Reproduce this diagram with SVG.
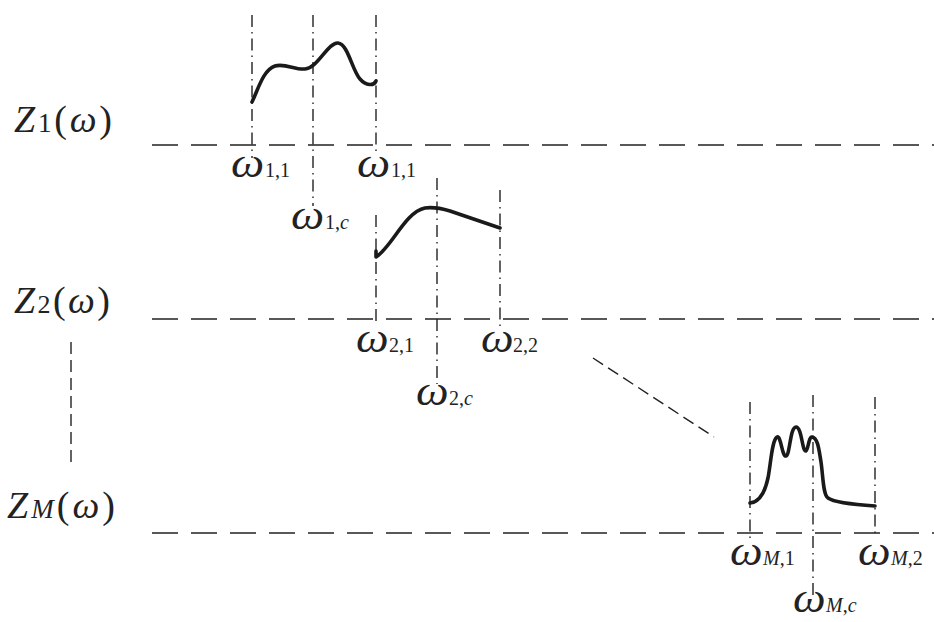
<svg xmlns="http://www.w3.org/2000/svg" width="934" height="622" viewBox="0 0 934 622">
<style>
text{fill:#222;font-family:"Liberation Serif","DejaVu Serif",serif}
.w{font-style:italic;font-size:42px}
.s{font-size:20px;font-style:normal}
.si{font-size:20px;font-style:italic}
.Z{font-size:38px}
.it{font-style:italic}
.axis{stroke:#222;stroke-width:1.6;stroke-dasharray:26 13;fill:none}
.dd{stroke:#222;stroke-width:1.4;stroke-dasharray:12 5 1.5 5;fill:none}
.dsh{stroke:#222;stroke-width:1.4;stroke-dasharray:12 6;fill:none}
.curve{stroke:#1a1a1a;stroke-width:3.6;fill:none;stroke-linecap:round;stroke-linejoin:round}
</style>
<rect width="934" height="622" fill="#fff"/>
<g id="labels-left">
<text class="Z" x="14" y="132" textLength="98" lengthAdjust="spacing"><tspan class="it">Z</tspan><tspan font-size="27">1</tspan>(<tspan class="it">ω</tspan>)</text>
<text class="Z" x="14" y="313" font-size="35" textLength="96" lengthAdjust="spacing"><tspan class="it">Z</tspan><tspan font-size="26">2</tspan>(<tspan class="it">ω</tspan>)</text>
<text class="Z" x="7" y="518" textLength="108" lengthAdjust="spacing"><tspan class="it">Z</tspan><tspan font-size="27" class="it">M</tspan>(<tspan class="it">ω</tspan>)</text>
</g>
<g id="connectors">
<line class="axis" x1="152" y1="145" x2="934" y2="145"/>
<line class="axis" x1="152" y1="319" x2="934" y2="319"/>
<line class="axis" x1="152" y1="533" x2="934" y2="533"/>
<line class="dsh" x1="71" y1="342" x2="71" y2="465"/>
<line class="dsh" x1="593" y1="358" x2="714" y2="437"/>
</g>
<g id="band1">
<line class="dd" x1="252" y1="15" x2="252" y2="158"/>
<line class="dd" x1="313" y1="15" x2="313" y2="206"/>
<line class="dd" x1="376" y1="15" x2="376" y2="156"/>
<path class="curve" d="M252,102 C258,90 263,70 275,66 C285,63 295,70 305,69 C318,68 328,42 338,43 C348,44 352,70 360,79 C366,86 374,86 376,81"/>
<g id="w11a"><text class="w" transform="translate(231,177) scale(1.12,1)">ω</text><text class="s" x="265" y="177">1,1</text></g>
<g id="w11b"><text class="w" transform="translate(357,177) scale(1.12,1)">ω</text><text class="s" x="391" y="177">1,1</text></g>
<g id="w1c"><text class="w" transform="translate(291,229) scale(1.12,1)">ω</text><text class="s" x="325" y="229">1,<tspan class="si">c</tspan></text></g>
</g>
<g id="band2">
<line class="dd" x1="376" y1="215" x2="376" y2="325"/>
<line class="dd" x1="437" y1="178" x2="437" y2="384"/>
<line class="dd" x1="500" y1="190" x2="500" y2="326"/>
<path class="curve" d="M376,251 L376,257 C392,247 405,212 425,208 C432,207 440,208 450,211 L500,228"/>
<g id="w21"><text class="w" transform="translate(356,352) scale(1.1,1)">ω</text><text class="s" x="389" y="352">2,1</text></g>
<g id="w22"><text class="w" transform="translate(481,352) scale(1.1,1)">ω</text><text class="s" x="513" y="352">2,2</text></g>
<g id="w2c"><text class="w" transform="translate(416,405) scale(1.1,1)">ω</text><text class="s" x="449" y="405">2,<tspan class="si">c</tspan></text></g>
</g>
<g id="bandM">
<line class="dd" x1="750" y1="402" x2="750" y2="540"/>
<line class="dd" x1="813" y1="395" x2="813" y2="598"/>
<line class="dd" x1="875" y1="397" x2="875" y2="536"/>
<path class="curve" d="M750,503 C760,502 765,492 768,478 C771,462 772,440 777,437 C781,435 782,457 786,456 C790,455 790,427 796,427 C802,427 802,452 806,451 C808,450 809,436 812,437 C818,438 819,450 821,462 C823,475 823,495 828,498 C835,503 860,505 875,506"/>
<g id="wM1"><text class="w" transform="translate(730,565) scale(1.1,1)">ω</text><text class="si" x="763" y="565">M<tspan class="s">,1</tspan></text></g>
<g id="wM2"><text class="w" transform="translate(858,565) scale(1.1,1)">ω</text><text class="si" x="891" y="565">M<tspan class="s">,2</tspan></text></g>
<g id="wMc"><text class="w" transform="translate(793,612) scale(1.1,1)">ω</text><text class="si" x="826" y="612">M<tspan class="s">,</tspan>c</text></g>
</g>
</svg>
